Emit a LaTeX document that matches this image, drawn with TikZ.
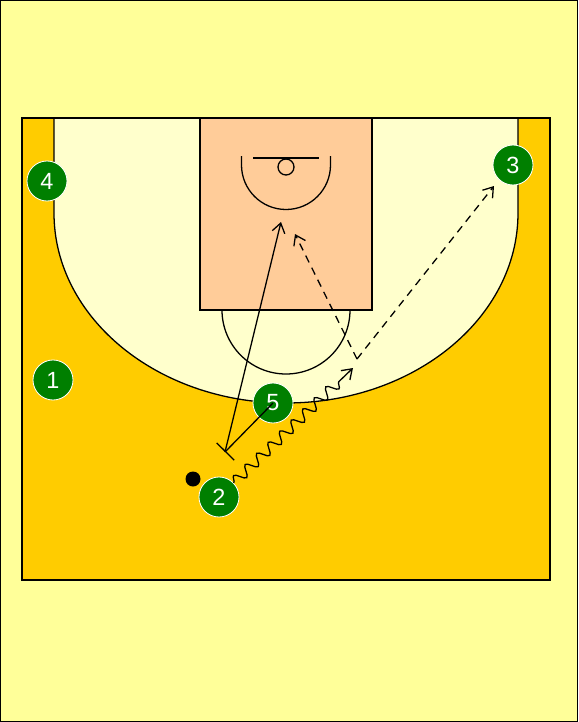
\documentclass[tikz,border=0pt]{standalone}
\usepackage{fontspec}
\setmainfont{Liberation Sans}
\usetikzlibrary{arrows.meta,decorations.pathmorphing}

\definecolor{paper}{HTML}{FFFF99}
\definecolor{court}{HTML}{FFCC00}
\definecolor{inside}{HTML}{FFFFCC}
\definecolor{paint}{HTML}{FFCC99}
\definecolor{team}{HTML}{007F00}

\tikzstyle{player} = [circle, fill = team, draw = white, line width = 0.7pt, minimum size = 1.2cm, inner sep = 0pt, text = white, font = \fontsize{20}{20}\selectfont]
\tikzstyle{ball} = [circle, fill = black, minimum size = 0.45cm, inner sep = 0pt]
\tikzstyle{courtline} = [draw = black, line width = 1.1pt]
\tikzstyle{move} = [->, line width = 1.1pt]
\tikzstyle{screen} = [-{Bar[width = 21pt, line width = 1.1pt]}, line width = 1.1pt]
\tikzstyle{pass} = [->, line width = 1.1pt, dash pattern = on 6.5pt off 5pt]
\tikzstyle{dribble} = [->, line width = 1.1pt, decorate, decoration = {snake, segment length = 0.48cm, amplitude = 0.16cm, post length = 0.35cm}]

\begin{document}
\begin{tikzpicture}[x = 0.03cm, y = -0.03cm, >={Straight Barb[length = 8pt, width = 11pt, line width = 1.1pt]}]
			\fill[paper] (0,0) rectangle (578,722);
			\draw[line width = 0.8pt] (0.5,0.5) rectangle (577.5,721.5);
			\fill[court] (22,118) rectangle (550,580);
			\fill[inside] (54,118) -- (54,213) arc[start angle = 180, end angle = 0, x radius = 232, y radius = 190] -- (518,118) -- cycle;
			\draw[courtline] (54,118) -- (54,213) arc[start angle = 180, end angle = 0, x radius = 232, y radius = 190] -- (518,118);
			\draw[courtline, fill = paint] (200,118) rectangle (372,310);
			\draw[courtline] (222,310) arc[start angle = 180, end angle = 0, radius = 64];
			\draw[courtline] (241.5,156) -- (241.5,165) arc[start angle = 180, end angle = 0, radius = 44.5] -- (330.5,156);
			\draw[courtline] (253,158) -- (319,158);
			\draw[courtline] (286,167) circle[radius = 8];
			\draw[line width = 1.7pt] (22,118) rectangle (550,580);

			\node[player] (p4) at (47,181) {4};
			\node[player] (p1) at (53,380) {1};
			\node[player] (p3) at (513,165) {3};
			\node[player] (p5) at (273,403) {5};
			\node[player] (p2) at (219,497) {2};
			\node[ball] (ball) at (193,479) {};

			\coordinate (scr) at (225,452);
			\coordinate (rim) at (281,222);
			\coordinate (drib) at (353,368);
			\coordinate (pv) at (357,359);
			\coordinate (to3) at (494,186);
			\coordinate (to5) at (295,234);

			\draw[screen] (p5.center) -- (scr);
			\draw[move] (scr) -- (rim);
			\draw[dribble] (p2) -- (drib);
			\draw[pass] (pv) -- (to3);
			\draw[pass] (pv) -- (to5);
		\end{tikzpicture}
\end{document}
